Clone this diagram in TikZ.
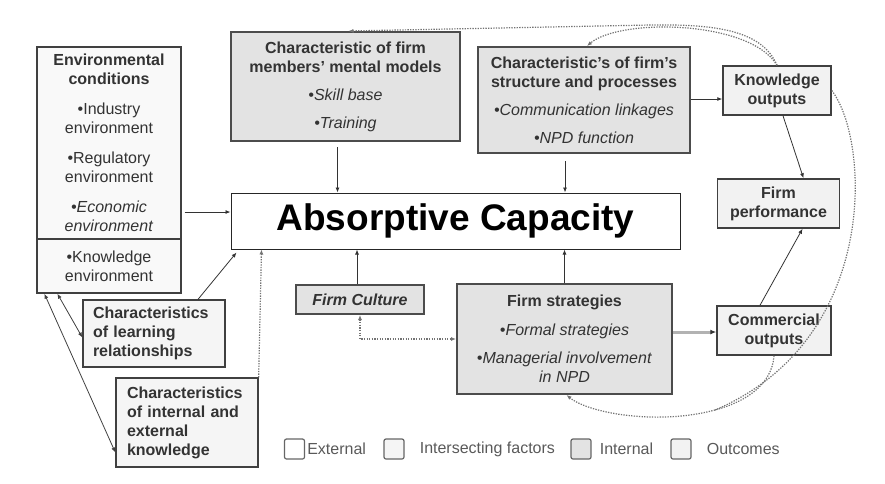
\documentclass[tikz,border=0pt]{standalone}
\usepackage{fontspec}
\setmainfont{Liberation Sans}
\usetikzlibrary{arrows.meta}

\begin{document}
\begin{tikzpicture}[x=1pt,y=-1pt,
	font=\fontsize{16}{19}\selectfont,
	every node/.style={text=black!80},
	box/.style={draw=black!75, line width=1pt, inner sep=0pt, align=center},
	extbox/.style={box, fill=white, draw=black!85},
	envbox/.style={box, fill=gray!5, line width=1.3pt},
	mixbox/.style={box, fill=gray!8, line width=1.3pt, align=left},
	intbox/.style={box, fill=gray!22, line width=2pt, draw=black!70},
	outbox/.style={box, fill=gray!10, line width=1.5pt},
	lgbox/.style={draw=black!60, line width=1.2pt, minimum size=20pt, inner sep=0pt, rounded corners=2pt},
	lgtext/.style={anchor=west, inner sep=1pt, text=black!65},
	tip/.tip={Latex[length=5pt,width=4pt]},
	arr/.style={-tip, black!80, line width=0.8pt},
	darr/.style={tip-tip, black!75, line width=0.8pt},
	dotline/.style={dash pattern=on 1.3pt off 1.3pt, line width=1.2pt, black!55},
	dotarr/.style={dotline, -tip},
	ddotarr/.style={dotline, tip-tip}]
	\useasboundingbox (0,0) rectangle (885,483);

	\node[envbox, minimum width=144pt, minimum height=192pt] (envtop) at (109,143)
		{\textbf{Environmental}\\\textbf{conditions}\\[11pt]•Industry\\environment\\[11pt]•Regulatory\\environment\\[11pt]\textit{•Economic}\\\textit{environment}};
	\node[envbox, minimum width=144pt, minimum height=54pt] (envknow) at (109,266) {•Knowledge\\environment};

	\node[intbox, minimum width=229pt, minimum height=109pt] (mental) at (345.5,86.5)
		{\textbf{Characteristic of firm}\\\textbf{members' mental models}\\[9pt]\textit{•Skill base}\\[9pt]\textit{•Training}};
	\node[intbox, minimum width=212pt, minimum height=106pt] (struct) at (584,100)
		{\textbf{Characteristic's of firm's}\\\textbf{structure and processes}\\[9pt]\textit{•Communication linkages}\\[9pt]\textit{•NPD function}};

	\node[outbox, minimum width=108pt, minimum height=49pt] (knowout) at (777,90.5) {\textbf{Knowledge}\\\textbf{outputs}};
	\node[outbox, minimum width=122pt, minimum height=49pt] (perf) at (778.5,203.5) {\textbf{Firm}\\\textbf{performance}};
	\node[outbox, minimum width=114pt, minimum height=49pt] (comm) at (774,330.5) {\textbf{Commercial}\\\textbf{outputs}};

	\node[extbox, minimum width=449pt, minimum height=56pt, text=black, font=\fontsize{37}{40}\selectfont\bfseries] (absorb) at (455.5,221) {Absorptive Capacity};

	\node[intbox, minimum width=128pt, minimum height=29pt, font=\fontsize{16}{19}\selectfont\bfseries\itshape] (culture) at (360,299.5) {Firm Culture};
	\node[intbox, minimum width=215pt, minimum height=110pt] (strat) at (564.5,339)
		{\textbf{Firm strategies}\\[10pt]\textit{•Formal strategies}\\[9pt]\textit{•Managerial involvement}\\\textit{in NPD}};

	\node[mixbox, minimum width=142pt, minimum height=67pt, text width=122pt] (learn) at (154,333.5)
		{\textbf{Characteristics}\\\textbf{of learning}\\\textbf{relationships}};
	\node[mixbox, minimum width=142pt, minimum height=89pt, text width=120pt] (knowl) at (187,422.5)
		{\textbf{Characteristics}\\\textbf{of internal and}\\\textbf{external}\\\textbf{knowledge}};

	\node[lgbox, fill=white] (lgext) at (294.5,449) {};
	\node[lgtext] (lgexttxt) at ([xshift=1pt]lgext.east) {External};
	\node[lgbox, fill=gray!8] (lgmix) at (394,449) {};
	\node[lgtext] (lgmixtxt) at ([xshift=14pt]lgmix.east) {Intersecting factors};
	\node[lgbox, fill=gray!22] (lgint) at (581,449) {};
	\node[lgtext] (lginttxt) at ([xshift=7pt]lgint.east) {Internal};
	\node[lgbox, fill=gray!10] (lgout) at (681,449) {};
	\node[lgtext] (lgouttxt) at ([xshift=14pt]lgout.east) {Outcomes};

	\coordinate (acin) at ([yshift=9pt]absorb.west);
	\draw[arr, shorten <=3pt] (acin -| envtop.east) -- (acin);
	\draw[arr, shorten <=5pt] ([xshift=-8pt]mental.south) -- ([xshift=-8pt]mental.south |- absorb.north);
	\draw[arr, shorten <=7pt] ([xshift=-19pt]struct.south) -- ([xshift=-19pt]struct.south |- absorb.north);
	\draw[arr] ([xshift=-3pt]culture.north) -- ([xshift=-3pt]culture.north |- absorb.south);
	\draw[arr] (strat.north) -- (strat.north |- absorb.south);
	\draw[arr] ([yshift=1pt]struct.east) -- ([yshift=1pt]struct.east -| knowout.west);
	\draw[arr] ([xshift=6pt]knowout.south) -- ([xshift=25pt]perf.north);
	\draw[arr] ([xshift=-14pt]comm.north) -- ([xshift=24pt]perf.south);
	\draw[-{Latex[length=6pt,width=5pt,black!80]}, gray!60, line width=3pt] ([yshift=7pt]strat.east) -- ([yshift=7pt]strat.east -| comm.west);
	\draw[arr] ([xshift=44pt]learn.north) -- ([xshift=6pt,yshift=-3pt]absorb.south west);
	\draw[darr] ([yshift=-4pt]learn.west) -- ([xshift=21pt]envknow.south west);
	\draw[darr] ([yshift=-30pt]knowl.west) -- ([xshift=8pt]envknow.south west);
	\draw[dotarr] (knowl.north east) -- ([xshift=31pt]absorb.south west);
	\draw[ddotarr] (culture.south) |- (strat.west);

	\draw[dotarr] (knowout.north) .. controls (762,30) and (715,24) .. (650,25) -- ([xshift=3pt]mental.north);
	\draw[dotarr] (knowout.north) .. controls (750,20) and (620,18) .. ([xshift=3pt]struct.north);
	\coordinate (merge) at (715,410);
	\draw[dotline] (knowout.east) .. controls (870,140) and (880,340) .. (merge);
	\draw[dotline] (comm.south) .. controls (772,385) and (745,402) .. (merge);
	\draw[dotarr] (merge) .. controls (660,425) and (590,414) .. ([xshift=2pt]strat.south);
\end{tikzpicture}
\end{document}
